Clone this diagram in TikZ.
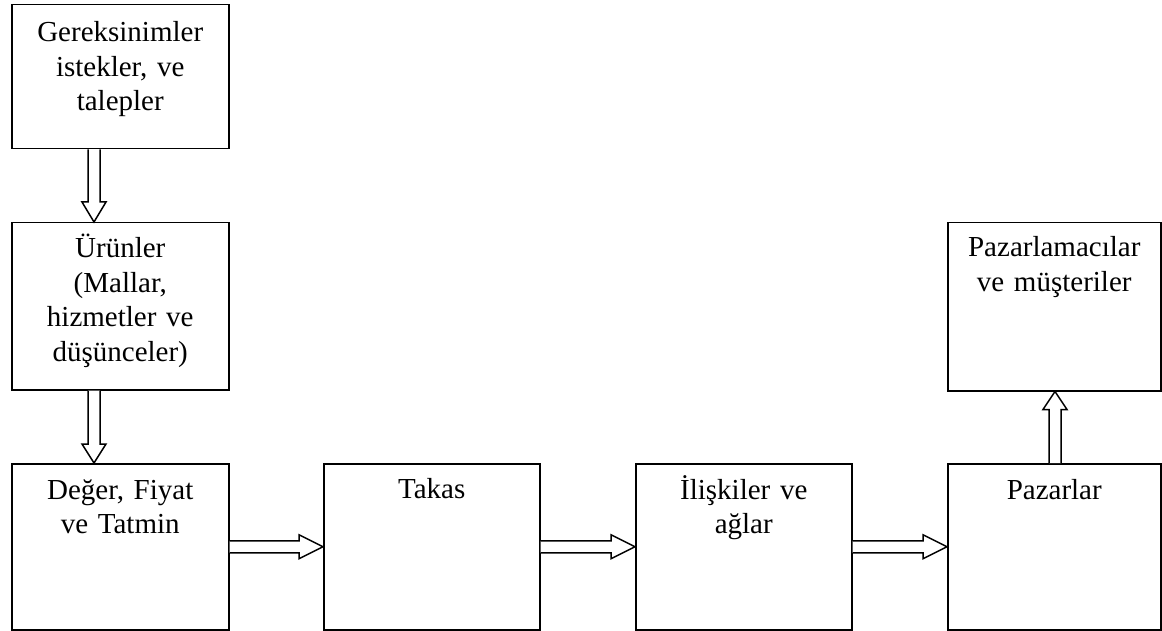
\documentclass[tikz,border=0pt]{standalone}
\usepackage{fontspec}
\setmainfont{Liberation Serif}
\usetikzlibrary{calc}
\tikzset{
  box/.style={draw, line width=1.5pt, inner sep=0pt, anchor=north west},
  lbl/.style={anchor=base, text width=200pt, align=center, inner sep=0pt,
              font=\fontsize{29}{34.5}\selectfont},
  blk/.style={draw, line width=1.5pt, fill=white, line join=miter}
}
\begin{document}
\begin{tikzpicture}[x=1pt,y=-1pt]
\useasboundingbox (0,0) rectangle (1162,631);
\node[box, minimum width=217pt, minimum height=144pt] (b1) at (11,4) {};
\node[box, minimum width=217pt, minimum height=167pt] (b2) at (11,222) {};
\node[box, minimum width=217pt, minimum height=166pt] (b3) at (11,463) {};
\node[box, minimum width=216pt, minimum height=166pt] (b4) at (323,463) {};
\node[box, minimum width=216pt, minimum height=166pt] (b5) at (635,463) {};
\node[box, minimum width=213pt, minimum height=166pt] (b6) at (947,463) {};
\node[box, minimum width=213pt, minimum height=168pt] (b7) at (947,222) {};

\node[lbl] (t1) at ($(b1.north)+(0,38)$) {Gereksinimler\\istekler, ve\\talepler};
\node[lbl] (t2) at ($(b2.north)+(0,36)$) {Ürünler\\(Mallar,\\hizmetler ve\\düşünceler)};
\node[lbl] (t3) at ($(b3.north)+(0,36)$) {Değer, Fiyat\\ve Tatmin};
\node[lbl] (t4) at ($(b4.north)+(0,35)$) {Takas};
\node[lbl] (t5) at ($(b5.north)+(0,36)$) {İlişkiler ve\\ağlar};
\node[lbl] (t6) at ($(b6.north)+(0,36)$) {Pazarlar};
\node[lbl] (t7) at ($(b7.north)+(0,35)$) {Pazarlamacılar\\ve müşteriler};

% vertical down arrows
\draw[blk] let \p1=($(b1.south west)+(83,0)$), \p2=(b2.north) in
  (\x1-6pt,\y1) -- (\x1-6pt,\y2+20pt) -- (\x1-12pt,\y2+20pt) -- (\x1,\y2)
  -- (\x1+12pt,\y2+20pt) -- (\x1+6pt,\y2+20pt) -- (\x1+6pt,\y1);
\draw[blk] let \p1=($(b2.south west)+(83,0)$), \p2=(b3.north) in
  (\x1-6pt,\y1) -- (\x1-6pt,\y2+19pt) -- (\x1-12pt,\y2+19pt) -- (\x1,\y2)
  -- (\x1+12pt,\y2+19pt) -- (\x1+6pt,\y2+19pt) -- (\x1+6pt,\y1);
% vertical up arrow
\draw[blk] let \p1=($(b6.north west)+(108,0)$), \p2=(b7.south) in
  (\x1-6pt,\y1) -- (\x1-6pt,\y2-18pt) -- (\x1-12pt,\y2-18pt) -- (\x1,\y2)
  -- (\x1+12pt,\y2-18pt) -- (\x1+6pt,\y2-18pt) -- (\x1+6pt,\y1);
% horizontal arrows
\foreach \a/\b in {b3/b4, b4/b5, b5/b6}{
  \draw[blk] let \p1=(\a.east), \p2=(\b.west) in
    (\x1,\y1+6pt) -- (\x2-24pt,\y1+6pt) -- (\x2-24pt,\y1+12pt) -- (\x2,\y1)
    -- (\x2-24pt,\y1-12pt) -- (\x2-24pt,\y1-6pt) -- (\x1,\y1-6pt);
}
\end{tikzpicture}
\end{document}
